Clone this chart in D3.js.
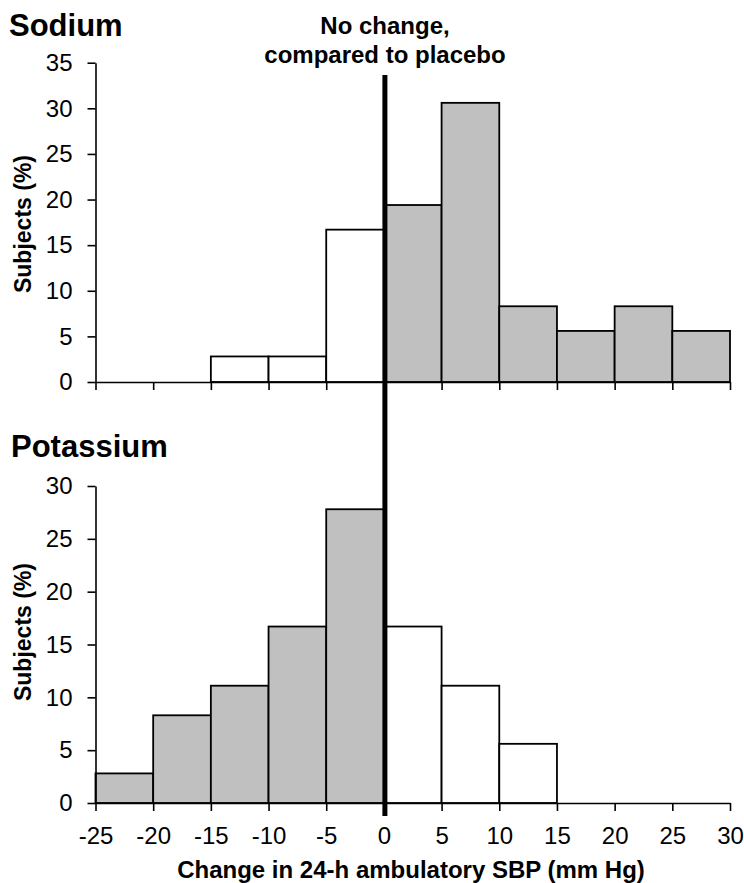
<!DOCTYPE html>
<html>
<head>
<meta charset="utf-8">
<script src="https://cdn.jsdelivr.net/npm/d3@7"></script>
<style>
	body { margin: 0; background: #fff; }
	text { font-family: 'Liberation Sans', Arial, sans-serif; }
</style>
</head>
<body>
<svg id="chart" width="744" height="883"></svg>
<script>
var SVG_WIDTH = 744;
var SVG_HEIGHT = 883;

// histogram bins, 5 mm Hg wide
var bin_starts = [-25, -20, -15, -10, -5, 0, 5, 10, 15, 20, 25];
var bin_edges = [-25, -20, -15, -10, -5, 0, 5, 10, 15, 20, 25, 30];

// percent of subjects per bin
var sodium_pct = [0, 0, 2.8, 2.8, 16.7, 19.4, 30.6, 8.3, 5.6, 8.3, 5.6];
var potassium_pct = [2.8, 8.3, 11.1, 16.7, 27.8, 16.7, 11.1, 5.6, 0, 0, 0];

var sodium_y_ticks = [0, 5, 10, 15, 20, 25, 30, 35];
var potassium_y_ticks = [0, 5, 10, 15, 20, 25, 30];

var GRAY = '#c0c0c0';

var svg = d3.select('#chart');

var x = d3.scaleLinear()
		.domain([-25, 30])
		.range([95.5, 730]);

function draw_panel(values, y, y_ticks, axis_y, show_labels, gray_test)
{
	var bins = bin_starts.map(function(d, i) { return {x0 : d, x1 : d + 5, v : values[i]}; })
		.filter(function(d) { return d.v > 0; });

	svg.append('g')
		.selectAll('rect')
		.data(bins)
		.enter()
		.append('rect')
		.attr('x', function(d) { return x(d.x0); })
		.attr('width', function(d) { return x(d.x1) - x(d.x0); })
		.attr('y', function(d) { return y(d.v); })
		.attr('height', function(d) { return y(0) - y(d.v); })
		.attr('fill', function(d) { return gray_test(d.x0) ? GRAY : '#fff'; })
		.attr('stroke', '#000')
		.attr('stroke-width', 1.8);

	var y_axis = svg.append('g')
		.attr('transform', 'translate(' + x(-25) + ',0)')
		.call(d3.axisLeft(y).tickValues(y_ticks).tickSize(8).tickSizeOuter(0).tickPadding(15));

	var x_axis = svg.append('g')
		.attr('transform', 'translate(0,' + axis_y + ')')
		.call(d3.axisBottom(x).tickValues(bin_edges).tickSize(8).tickSizeOuter(0).tickPadding(16)
			.tickFormat(show_labels ? d3.format('d') : function() { return ''; }));

	[y_axis, x_axis].forEach(function(a)
	{
		a.selectAll('path, line').attr('stroke', '#000').attr('stroke-width', 1.6);
		a.selectAll('text')
			.attr('fill', '#000')
			.style('font-family', "'Liberation Sans', Arial, sans-serif")
			.style('font-size', '24px');
	});
	x_axis.selectAll('text').text(function(d) { return show_labels ? String(d) : ''; });
}

var y_sodium = d3.scaleLinear()
		.domain([0, 35])
		.range([382, 62.7]);

var y_potassium = d3.scaleLinear()
		.domain([0, 30])
		.range([803, 486]);

draw_panel(sodium_pct, y_sodium, sodium_y_ticks, 382, false, function(v) { return v >= 0; });
draw_panel(potassium_pct, y_potassium, potassium_y_ticks, 803, true, function(v) { return v < 0; });

// panel titles
svg.append('text')
	.attr('x', 9)
	.attr('y', 36)
	.style('font-size', '31px')
	.style('font-weight', 'bold')
	.text('Sodium');

svg.append('text')
	.attr('x', 11)
	.attr('y', 457)
	.style('font-size', '31px')
	.style('font-weight', 'bold')
	.text('Potassium');

// y axis titles
[[224, 31], [632, 31]].forEach(function(p)
{
	svg.append('text')
		.attr('transform', 'translate(' + p[1] + ',' + p[0] + ') rotate(-90)')
		.attr('text-anchor', 'middle')
		.style('font-size', '23px')
		.style('font-weight', 'bold')
		.text('Subjects (%)');
});

// x axis title
svg.append('text')
	.attr('x', 411)
	.attr('y', 878)
	.attr('text-anchor', 'middle')
	.style('font-size', '24px')
	.style('font-weight', 'bold')
	.text('Change in 24-h ambulatory SBP (mm Hg)');

// no-change reference line
svg.append('line')
	.attr('x1', x(0) + 1)
	.attr('x2', x(0) + 1)
	.attr('y1', 75)
	.attr('y2', 816)
	.attr('stroke', '#000')
	.attr('stroke-width', 5);

svg.append('text')
	.attr('x', 385)
	.attr('y', 34)
	.attr('text-anchor', 'middle')
	.style('font-size', '24px')
	.style('font-weight', 'bold')
	.text('No change,');

svg.append('text')
	.attr('x', 385)
	.attr('y', 63)
	.attr('text-anchor', 'middle')
	.style('font-size', '24px')
	.style('font-weight', 'bold')
	.text('compared to placebo');
</script>
</body>
</html>
